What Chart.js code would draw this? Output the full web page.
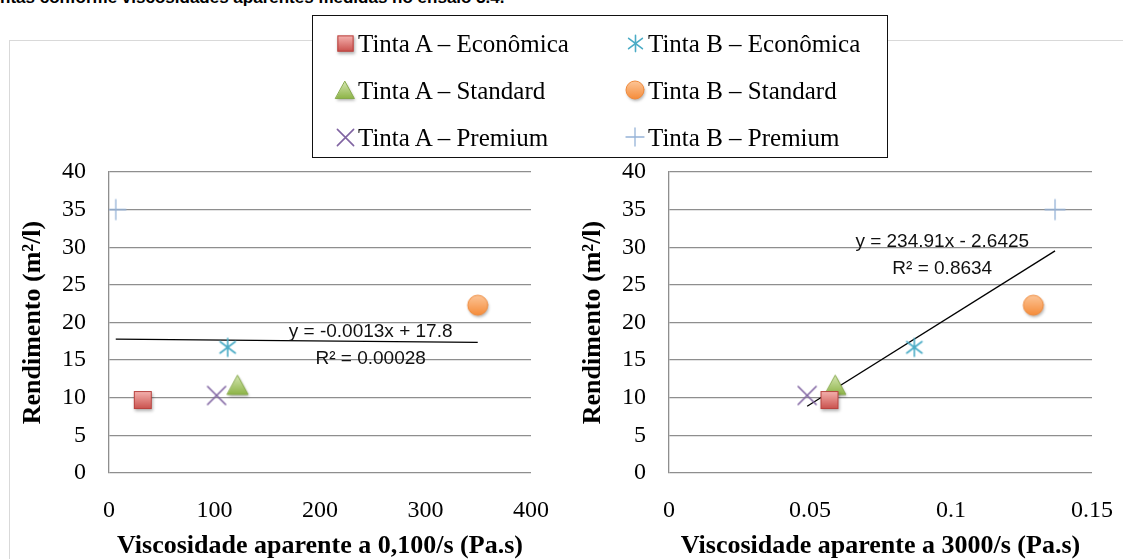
<!DOCTYPE html>
<html>
<head>
<meta charset="utf-8">
<script src="https://cdn.jsdelivr.net/npm/chart.js@4.4.1/dist/chart.umd.min.js"></script>
<style>
  body { margin: 0; width: 1123px; height: 559px; overflow: hidden; background: #fff; position: relative; font-family: "Liberation Serif", serif; }
  #caption { position: absolute; left: 0; top: -11px; font: bold 17px "Liberation Sans", sans-serif; line-height: 17px; white-space: nowrap; }
  #frame { position: absolute; left: 9px; top: 40px; width: 1200px; height: 600px; border: 1px solid #d9d9d9; }
  canvas.chart { position: absolute; top: 0; }
  #legend { position: absolute; left: 312px; top: 15px; width: 574px; height: 141px; border: 1.5px solid #111; background: #fff; }
  #legend canvas { position: absolute; }
  #legend span { position: absolute; font-size: 25px; line-height: 30px; white-space: nowrap; color: #000; }
</style>
</head>
<body>
<div id="caption">ntas conforme viscosidades aparentes medidas no ensaio 3.4.</div>
<div id="frame"></div>
<canvas id="chartLow" class="chart" width="560" height="559" style="left:0"></canvas>
<canvas id="chartHigh" class="chart" width="563" height="559" style="left:560px"></canvas>
<div id="legend"></div>
<script>
// data
const seriesNames = ['Tinta A – Econômica', 'Tinta A – Standard', 'Tinta A – Premium',
                     'Tinta B – Econômica', 'Tinta B – Standard', 'Tinta B – Premium'];
const rendimento = [9.7, 11.7, 10.3, 16.7, 22.3, 35.0];
const viscLow = [32, 122, 102, 112.5, 349.5, 6.4];            // a 0,100/s
const viscHigh = [0.0569, 0.059, 0.049, 0.087, 0.1292, 0.1369]; // a 3000/s

const trendLowX = [6.4, 349.5];
const trendLowY = [17.79, 17.35];
const trendHighX = [0.049, 0.1369];
const trendHighY = [8.87, 29.52];
const trendLowText = ['y = -0.0013x + 17.8', 'R² = 0.00028'];
const trendHighText = ['y = 234.91x - 2.6425', 'R² = 0.8634'];

const yTitle = 'Rendimento (m²/l)';
const xTitleLow = 'Viscosidade aparente a 0,100/s (Pa.s)';
const xTitleHigh = 'Viscosidade aparente a 3000/s (Pa.s)';

// marker images (Excel-like)
const kinds = ['square', 'triangle', 'cross', 'star', 'circle', 'plus'];

function marker(kind, s) {
  const pad = 6;
  const c = document.createElement('canvas');
  c.width = c.height = Math.ceil(s + pad * 2);
  const g = c.getContext('2d');
  const m = c.width / 2, h = s / 2;
  function grad(light, dark) {
    const gr = g.createLinearGradient(0, m - h, 0, m + h);
    gr.addColorStop(0, light);
    gr.addColorStop(1, dark);
    return gr;
  }
  function shadow() {
    g.shadowColor = 'rgba(0,0,0,0.3)';
    g.shadowBlur = 3;
    g.shadowOffsetX = 1;
    g.shadowOffsetY = 2;
  }
  function noShadow() { g.shadowColor = 'transparent'; }
  g.lineCap = 'round';
  if (kind === 'square') {
    shadow();
    g.fillStyle = grad('#f5b3b0', '#c9504c');
    g.fillRect(m - h, m - h, s, s);
    noShadow();
    g.strokeStyle = '#b8433f'; g.lineWidth = 1;
    g.strokeRect(m - h + 0.5, m - h + 0.5, s - 1, s - 1);
  } else if (kind === 'triangle') {
    shadow();
    g.beginPath();
    g.moveTo(m, m - h); g.lineTo(m + h * 1.1, m + h); g.lineTo(m - h * 1.1, m + h); g.closePath();
    g.fillStyle = grad('#d4e5b0', '#8db447');
    g.fill();
    noShadow();
    g.strokeStyle = '#86a94a'; g.lineWidth = 1; g.stroke();
  } else if (kind === 'circle') {
    shadow();
    g.beginPath(); g.arc(m, m, h, 0, Math.PI * 2);
    g.fillStyle = grad('#fcc597', '#f58c3a');
    g.fill();
    noShadow();
    g.strokeStyle = '#ef8a3c'; g.lineWidth = 1; g.stroke();
  } else if (kind === 'cross') {
    g.strokeStyle = '#8064a2'; g.lineWidth = 1.6;
    g.beginPath();
    g.moveTo(m - h, m - h); g.lineTo(m + h, m + h);
    g.moveTo(m + h, m - h); g.lineTo(m - h, m + h);
    g.stroke();
  } else if (kind === 'star') {
    g.strokeStyle = '#4bacc6'; g.lineWidth = 1.6;
    const d = h * 0.85;
    g.beginPath();
    g.moveTo(m, m - h); g.lineTo(m, m + h);
    g.moveTo(m - d, m - d * 0.75); g.lineTo(m + d, m + d * 0.75);
    g.moveTo(m + d, m - d * 0.75); g.lineTo(m - d, m + d * 0.75);
    g.stroke();
  } else if (kind === 'plus') {
    g.strokeStyle = '#95b3d7'; g.lineWidth = 1.3;
    g.beginPath();
    g.moveTo(m, m - h); g.lineTo(m, m + h);
    g.moveTo(m - h, m); g.lineTo(m + h, m);
    g.stroke();
  }
  return c;
}

const markerSize = [18, 19, 18, 18, 20, 20];
const chartMarkers = kinds.map((k, i) => marker(k, markerSize[i]));

// legend
const legend = document.getElementById('legend');
const rowY = [28, 75, 122];
const colMarkerX = [32, 322];
const colTextX = [45, 335];
seriesNames.forEach((name, i) => {
  const col = Math.floor(i / 3), row = i % 3;
  const mk = marker(kinds[i], markerSize[i] * 0.9);
  mk.style.left = (colMarkerX[col] - mk.width / 2) + 'px';
  mk.style.top = (rowY[row] - 1 - mk.height / 2) + 'px';
  legend.appendChild(mk);
  const sp = document.createElement('span');
  sp.textContent = name;
  sp.style.left = colTextX[col] + 'px';
  sp.style.top = (rowY[row] - 15) + 'px';
  legend.appendChild(sp);
});

// trend label plugin
const trendText = {
  id: 'trendText',
  afterDatasetsDraw(chart, args, opts) {
    const { ctx, scales: { x, y } } = chart;
    ctx.save();
    ctx.font = '19px "Liberation Sans", sans-serif';
    ctx.fillStyle = '#111';
    ctx.textAlign = 'center';
    ctx.textBaseline = 'middle';
    opts.lines.forEach((t, i) => ctx.fillText(t, x.getPixelForValue(opts.x), y.getPixelForValue(opts.y[i])));
    ctx.restore();
  }
};

const gridColor = '#8e8e8e';

function makeChart(id, xs, trendX, trendY, textLines, textPos, xOpts, xTitle, rightPad) {
  const datasets = seriesNames.map((name, i) => ({
    label: name,
    data: [{ x: xs[i], y: rendimento[i] }],
    pointStyle: chartMarkers[i],
    pointRadius: 10
  }));
  datasets.push({
    label: 'Linear',
    type: 'line',
    data: trendX.map((v, i) => ({ x: v, y: trendY[i] })),
    borderColor: '#000',
    borderWidth: 1.3,
    pointRadius: 0,
    fill: false
  });
  return new Chart(document.getElementById(id), {
    type: 'scatter',
    data: { datasets },
    plugins: [trendText],
    options: {
      responsive: false,
      animation: false,
      events: [],
      layout: { padding: { top: 172, right: rightPad, left: 0, bottom: 0 } },
      plugins: {
        legend: { display: false },
        tooltip: { enabled: false },
        trendText: { lines: textLines, x: textPos.x, y: textPos.y }
      },
      scales: {
        x: Object.assign({
          type: 'linear',
          afterFit(scale) { scale.height = 86; scale.paddingLeft = 0; scale.paddingRight = 0; },
          grid: { display: false, drawTicks: false },
          border: { display: false },
          title: { display: true, text: xTitle, color: '#000', padding: { top: 0, bottom: -3 },
                   font: { family: 'Liberation Serif', size: 26, weight: 'bold' } }
        }, xOpts),
        y: {
          type: 'linear',
          min: 0, max: 40,
          afterFit(scale) { scale.width = 109; },
          grid: { color: gridColor, lineWidth: 1.3, drawTicks: false },
          border: { display: true, color: gridColor, width: 1.3 },
          ticks: { stepSize: 5, font: { family: 'Liberation Serif', size: 24 }, color: '#000', padding: 23 },
          title: { display: true, text: yTitle, color: '#000', padding: { top: 18, bottom: 0 },
                   font: { family: 'Liberation Serif', size: 26, weight: 'bold' } }
        }
      }
    }
  });
}

const tickFont = { family: 'Liberation Serif', size: 24 };

makeChart('chartLow', viscLow, trendLowX, trendLowY, trendLowText,
  { x: 248, y: [18.76, 15.2] },
  { min: 0, max: 400, ticks: { stepSize: 100, font: tickFont, color: '#000', padding: 23, maxRotation: 0 } },
  xTitleLow, 29);

makeChart('chartHigh', viscHigh, trendHighX, trendHighY, trendHighText,
  { x: 0.0969, y: [30.7, 27.2] },
  { min: 0, max: 0.15, ticks: { stepSize: 0.05, font: tickFont, color: '#000', padding: 23, maxRotation: 0,
      callback: v => String(Number(v.toFixed(2))) } },
  xTitleHigh, 31);
</script>
</body>
</html>
